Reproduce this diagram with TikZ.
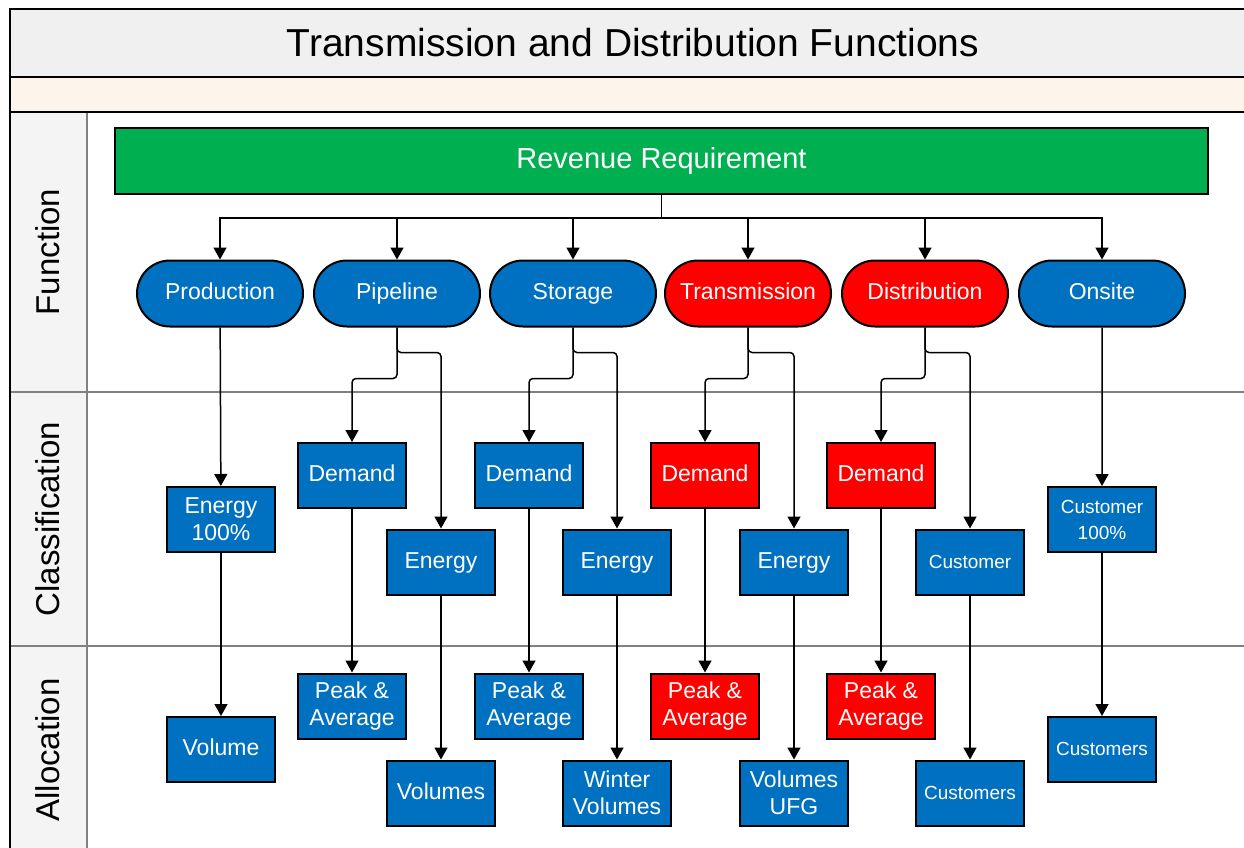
\documentclass[tikz,border=0pt]{standalone}
\usepackage{fontspec}
\setmainfont{Liberation Sans}
\usepackage{tikz}
\usetikzlibrary{shapes.misc,arrows.meta}
\definecolor{boxblue}{HTML}{0070C0}
\definecolor{boxred}{HTML}{FF0000}
\definecolor{boxgreen}{HTML}{00B050}
\definecolor{titlegrey}{HTML}{F0F0F0}
\definecolor{peach}{HTML}{FDF5EC}
\definecolor{lanegrey}{HTML}{F4F4F4}
\begin{document}
\begin{tikzpicture}[x=1pt,y=-1pt,
  pill/.style={rounded rectangle, draw=black, line width=2pt, fill=boxblue, text=white,
    minimum width=166pt, minimum height=66pt, inner sep=0pt, text height=17pt, text depth=5pt,
    font=\fontsize{23}{26}\selectfont},
  box/.style={rectangle, draw=black, line width=2pt, fill=boxblue, text=white, align=center,
    minimum width=108pt, minimum height=65pt, inner sep=0pt, font=\fontsize{23}{27}\selectfont},
  one/.style={text height=17pt, text depth=5pt},
  small/.style={font=\fontsize{19}{26}\selectfont},
  hot/.style={fill=boxred},
  conn/.style={-{Triangle[length=12pt,width=13pt]}, line width=1.5pt, rounded corners=4pt},
  lane/.style={rotate=90, font=\fontsize{33}{36}\selectfont}]
\useasboundingbox (0,0) rectangle (1244,848);
\fill[white] (0,0) rectangle (1244,848);
%
% frame and lanes
\fill[titlegrey] (10,9) rectangle (1256,77);
\fill[peach] (10,77) rectangle (1256,112);
\fill[lanegrey] (10,112) rectangle (87,900);
\draw[gray, line width=2.5pt] (87,112) -- (87,900);
\draw[gray, line width=2.5pt] (10,392) -- (1256,392);
\draw[gray, line width=2.5pt] (10,646) -- (1256,646);
\draw[line width=2.5pt] (10,77) -- (1256,77);
\draw[line width=2.5pt] (10,112) -- (1256,112);
\draw[line width=2.5pt] (10,900) -- (10,9) -- (1256,9) -- (1256,900);
%
\node (title) at (633,43) {\fontsize{39}{44}\selectfont Transmission and Distribution Functions};
\node[lane] (lfun) at (48,252) {Function};
\node[lane] (lcls) at (48,519) {Classification};
\node[lane] (lall) at (48,750) {Allocation};
%
% function row
\node[rectangle, draw=black, line width=2pt, fill=boxgreen, text=white, minimum width=1093pt,
  minimum height=66pt, font=\fontsize{29}{32}\selectfont] (rev) at (661.5,161) {Revenue Requirement};
\node[pill] (prod) at (220,293.5) {Production};
\node[pill] (pipe) at (397,293.5) {Pipeline};
\node[pill] (stor) at (573,293.5) {Storage};
\node[pill, hot] (trans) at (748,293.5) {Transmission};
\node[pill, hot] (dist) at (925,293.5) {Distribution};
\node[pill] (onsite) at (1102,293.5) {Onsite};
%
% classification row
\node[box] (prodE) at (221,519.5) {Energy\\100\%};
\node[box, one] (pipeD) at (352,475.5) {Demand};
\node[box, one] (pipeE) at (441,562) {Energy};
\node[box, one] (storD) at (529,475.5) {Demand};
\node[box, one] (storE) at (617,562) {Energy};
\node[box, one, hot] (transD) at (705,475.5) {Demand};
\node[box, one] (transE) at (794,562) {Energy};
\node[box, one, hot] (distD) at (881,475.5) {Demand};
\node[box, small, one] (distC) at (970,562) {Customer};
\node[box, small] (onC) at (1102,519.5) {Customer\\100\%};
%
% allocation row
\node[box, one] (prodV) at (221,749.5) {Volume};
\node[box] (pipeP) at (352,706) {Peak \&\\Average};
\node[box, one] (pipeV) at (441,793) {Volumes};
\node[box] (storP) at (529,706) {Peak \&\\Average};
\node[box] (storW) at (617,793) {Winter\\Volumes};
\node[box, hot] (transP) at (705,706) {Peak \&\\Average};
\node[box] (transV) at (794,793) {Volumes\\UFG};
\node[box, hot] (distP) at (881,706) {Peak \&\\Average};
\node[box, small, one] (distV) at (970,793) {Customers};
\node[box, small, one] (onV) at (1102,749.5) {Customers};
%
% connectors
\foreach \f in {prod,pipe,stor,trans,dist,onsite}
  \draw[conn, rounded corners=0pt] (rev.south) -- ++(0,23) -| (\f.north);
\foreach \f/\d/\e in {pipe/pipeD/pipeE, stor/storD/storE, trans/transD/transE, dist/distD/distC}{
  \draw[conn] (\f.south) -- ++(0,25) -| (\e.north);
  \draw[conn] (\f.south) -- ++(0,51) -| (\d.north);
}
\draw[conn] (prod) -- (prodE);
\draw[conn] (onsite) -- (onC);
\foreach \a/\b in {prodE/prodV, pipeD/pipeP, pipeE/pipeV, storD/storP, storE/storW,
  transD/transP, transE/transV, distD/distP, distC/distV, onC/onV}
  \draw[conn] (\a) -- (\b);
\end{tikzpicture}
\end{document}
